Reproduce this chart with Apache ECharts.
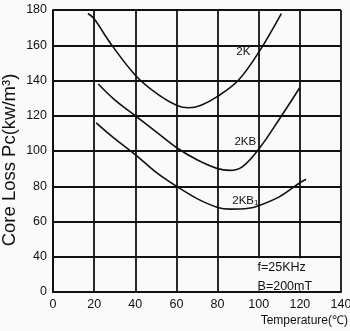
<!DOCTYPE html>
<html>
<head>
<meta charset="utf-8">
<script src="https://cdn.jsdelivr.net/npm/echarts@6/dist/echarts.min.js"></script>
<style>html,body{margin:0;padding:0;background:#fafafa;}#c{width:350px;height:331px;}</style>
</head>
<body>
<div id="c"></div>
<script>
// Temperature (°C) sample points and core loss (kW/m³) per material
var temp2K   = [17, 20, 28, 40, 50, 60, 66, 72, 80, 90, 100, 111];
var loss2K   = [178, 175, 161, 143, 133, 126, 124.5, 126, 131, 140, 156, 178];
var temp2KB  = [22, 30, 40, 50, 60, 70, 80, 86, 92, 100, 110, 120];
var loss2KB  = [138, 129, 120, 111, 102, 95, 90, 89, 91, 101, 118, 136];
var temp2KB1 = [21, 30, 40, 50, 60, 70, 80, 86, 95, 100, 110, 120, 123];
var loss2KB1 = [116, 107, 98, 88, 80, 73, 68, 67, 67.5, 69, 74, 82, 84];
// Broken y axis: the bottom gridline (value 20 on the scale) is labelled "0"
var yTickValues = [20, 40, 60, 80, 100, 120, 140, 160, 180];
var yTickLabels = ['0', '40', '60', '80', '100', '120', '140', '160', '180'];
var xTickLabels = ['0', '20', '40', '60', '80', '100', '120', '140'];
var seriesNames = ['2K', '2KB', '2KB1'];
var labelPos = [[92.5, 156], [93.5, 105], [93.5, 72]];
var noteLines = ['f=25KHz', 'B=200mT'];
// Note box cell (temperature 80..140, scale 20..40) has no inner gridlines
var noteCell = [[80, 40], [140, 20]];

function pairs(xs, ys) { return xs.map(function (x, i) { return [x, ys[i]]; }); }
var FONT = 'Liberation Sans, Arial, sans-serif';
var BG = '#fafafa';
var chart = echarts.init(document.getElementById('c'));
var temps = [temp2K, temp2KB, temp2KB1];
var losses = [loss2K, loss2KB, loss2KB1];
var series = seriesNames.map(function (n, i) {
  return {
    name: n, type: 'line', smooth: 0.35, showSymbol: false, silent: true,
    lineStyle: { color: '#111', width: 1.6 },
    data: pairs(temps[i], losses[i]),
    markPoint: {
      symbol: 'circle', symbolSize: 0, silent: true,
      label: {
        show: true, position: 'inside', color: '#111', fontFamily: FONT, fontSize: 11.5,
        formatter: n === '2KB1' ? '2KB{s|1}' : n,
        rich: { s: { fontSize: 8, fontFamily: FONT, color: '#111', padding: [4, 0, 0, 0] } }
      },
      data: [{ coord: labelPos[i] }]
    }
  };
});
chart.setOption({
  backgroundColor: BG,
  animation: false,
  grid: { left: 53, right: 9, top: 10, bottom: 39, containLabel: false, outerBoundsMode: 'none' },
  xAxis: {
    type: 'value', min: 0, max: 140, interval: 20,
    axisLine: { lineStyle: { color: '#111', width: 2 } },
    axisTick: { show: false },
    axisLabel: { color: '#111', fontFamily: FONT, fontSize: 12.5, margin: 6,
      formatter: function (v) { return xTickLabels[v / 20]; } },
    splitLine: { show: true, lineStyle: { color: '#111', width: 1.8 } }
  },
  yAxis: {
    type: 'value', min: 20, max: 180, interval: 20,
    axisLine: { show: true, lineStyle: { color: '#111', width: 2 } },
    axisTick: { show: false },
    axisLabel: { color: '#111', fontFamily: FONT, fontSize: 12.5, margin: 6,
      formatter: function (v) { var i = yTickValues.indexOf(v); return i >= 0 ? yTickLabels[i] : ''; } },
    splitLine: { show: true, lineStyle: { color: '#111', width: 1.8 } }
  },
  series: series
});
var p0 = chart.convertToPixel({ gridIndex: 0 }, noteCell[0]);
var p1 = chart.convertToPixel({ gridIndex: 0 }, noteCell[1]);
var g = [{
  type: 'rect', silent: true, z: 10,
  shape: { x: p0[0] + 1.5, y: p0[1] + 1.5, width: p1[0] - p0[0] - 3, height: p1[1] - p0[1] - 3 },
  style: { fill: BG }
}];
noteLines.forEach(function (t, i) {
  g.push({ type: 'text', left: p0[0] + 40, top: p0[1] + 4 + i * 19, silent: true, z: 11,
    style: { text: t, fill: '#111', font: '12.5px ' + FONT } });
});
g.push({ type: 'text', right: 2, top: 315, silent: true, z: 11,
  style: { text: 'Temperature(℃)', fill: '#111', font: '12px ' + FONT } });
// Rotated y-axis title, centred at (10, 160)
g.push({ type: 'text', x: 10, y: 160, rotation: Math.PI / 2, silent: true, z: 11,
  style: { text: 'Core Loss Pc(kw/m³)', fill: '#111', font: '18.5px ' + FONT,
    align: 'center', verticalAlign: 'middle' } });
chart.setOption({ graphic: g });
</script>
</body>
</html>
